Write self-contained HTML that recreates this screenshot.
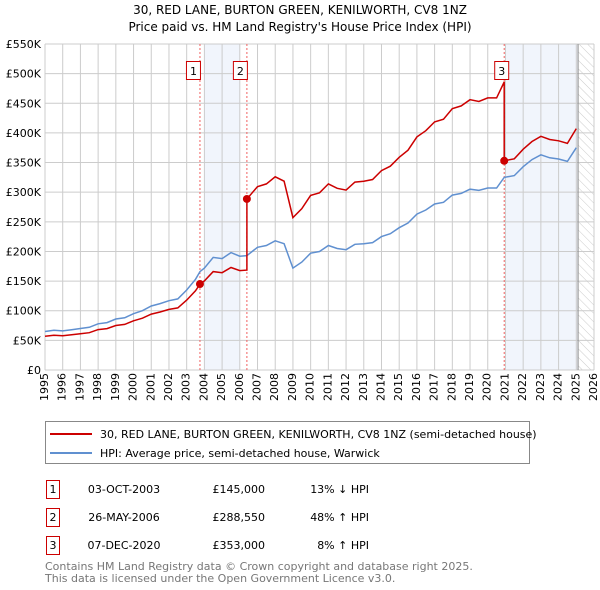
<!DOCTYPE html>
<html><head><meta charset="utf-8"><style>
body{margin:0;background:#fff;font-family:"DejaVu Sans","Liberation Sans",sans-serif;position:relative;width:600px;height:590px;overflow:hidden}
svg{display:block;position:absolute;left:0;top:0}
.xl{position:absolute;font-size:11px;line-height:11px;white-space:nowrap;color:#000;writing-mode:vertical-rl;writing-mode:sideways-lr}
</style></head><body>
<svg id="c" width="600" height="590" viewBox="0 0 600 590" font-family="DejaVu Sans, Liberation Sans, sans-serif">
<text x="300" y="14" text-anchor="middle" font-size="12" fill="#000">30, RED LANE, BURTON GREEN, KENILWORTH, CV8 1NZ</text>
<text x="300" y="31" text-anchor="middle" font-size="12" fill="#000">Price paid vs. HM Land Registry's House Price Index (HPI)</text>
<g id="plot"></g>
<g>
<rect x="45.5" y="421.5" width="484" height="42" fill="#fff" stroke="#888"/>
<line x1="50" y1="434" x2="92" y2="434" stroke="#cc0000" stroke-width="2"/>
<text x="100" y="438" font-size="11">30, RED LANE, BURTON GREEN, KENILWORTH, CV8 1NZ (semi-detached house)</text>
<line x1="50" y1="453" x2="92" y2="453" stroke="#6090d0" stroke-width="2"/>
<text x="100" y="457" font-size="11">HPI: Average price, semi-detached house, Warwick</text>
</g>
<g font-size="11">
<rect x="46.5" y="480.5" width="13" height="18" fill="#fff" stroke="#cc0000"/><text x="53" y="493" text-anchor="middle">1</text>
<text x="124" y="493" text-anchor="middle">03-OCT-2003</text><text x="265" y="493" text-anchor="end">£145,000</text><text x="369" y="493" text-anchor="end">13% ↓ HPI</text>
<rect x="46.5" y="508.5" width="13" height="18" fill="#fff" stroke="#cc0000"/><text x="53" y="521" text-anchor="middle">2</text>
<text x="124" y="521" text-anchor="middle">26-MAY-2006</text><text x="265" y="521" text-anchor="end">£288,550</text><text x="369" y="521" text-anchor="end">48% ↑ HPI</text>
<rect x="46.5" y="536.5" width="13" height="18" fill="#fff" stroke="#cc0000"/><text x="53" y="549" text-anchor="middle">3</text>
<text x="124" y="549" text-anchor="middle">07-DEC-2020</text><text x="265" y="549" text-anchor="end">£353,000</text><text x="369" y="549" text-anchor="end">8% ↑ HPI</text>
</g>
<text x="45" y="570" font-size="11" fill="#777">Contains HM Land Registry data © Crown copyright and database right 2025.</text>
<text x="45" y="582" font-size="11" fill="#777">This data is licensed under the Open Government Licence v3.0.</text>
</svg>
<script>
const hpiYears=[1995,1995.5,1996,1996.5,1997,1997.5,1998,1998.5,1999,1999.5,2000,2000.5,2001,2001.5,2002,2002.5,2003,2003.5,2003.75,2004,2004.5,2005,2005.5,2006,2006.4,2007,2007.5,2008,2008.5,2009,2009.5,2010,2010.5,2011,2011.5,2012,2012.5,2013,2013.5,2014,2014.5,2015,2015.5,2016,2016.5,2017,2017.5,2018,2018.5,2019,2019.5,2020,2020.5,2020.93,2021.5,2022,2022.5,2023,2023.5,2024,2024.5,2025];
const hpiValues=[65,67,66,68,70,72,78,80,86,88,95,100,108,112,117,120,135,153,166,172,190,188,198,192,193,207,210,218,213,172,182,197,200,210,205,203,212,213,215,225,230,240,248,263,270,280,283,295,298,305,303,307,307,325,328,343,355,363,358,356,352,375];
const saleYears=[2003.75,2006.4,2020.93];
const salePrices=[145,288.55,353];
const saleLabels=["1","2","3"];
const yTicks=[0,50,100,150,200,250,300,350,400,450,500,550];
const xTicks=[1995,1996,1997,1998,1999,2000,2001,2002,2003,2004,2005,2006,2007,2008,2009,2010,2011,2012,2013,2014,2015,2016,2017,2018,2019,2020,2021,2022,2023,2024,2025,2026];
const X0=45,X1=594,Y0=370,Y1=44;
const xs=y=>X0+(y-1995)/(2026-1995)*(X1-X0);
const ys=v=>Y0-v/550*(Y0-Y1);
const NS="http://www.w3.org/2000/svg";
const g=document.getElementById('plot');
function mk(t,a,p){const e=document.createElementNS(NS,t);for(const k in a)e.setAttribute(k,a[k]);(p||g).appendChild(e);return e;}
function hpiAt(y){for(let i=1;i<hpiYears.length;i++){if(y<=hpiYears[i]){const t=(y-hpiYears[i-1])/(hpiYears[i]-hpiYears[i-1]);return hpiValues[i-1]+t*(hpiValues[i]-hpiValues[i-1]);}}return hpiValues[hpiValues.length-1];}
let s=mk('rect',{x:xs(2004),y:Y1,width:xs(2006)-xs(2004),height:Y0-Y1,fill:'#eef2fb',opacity:0.8});

s=mk('rect',{x:xs(2021),y:Y1,width:xs(2025.1)-xs(2021),height:Y0-Y1,fill:'#eef2fb',opacity:0.8});

const defs=mk('defs',{});
const pat=mk('pattern',{id:'h',width:6,height:6,patternUnits:'userSpaceOnUse',patternTransform:'rotate(-45)'},defs);
mk('line',{x1:0,y1:0,x2:0,y2:6,stroke:'#ccc','stroke-width':1},pat);
s=mk('rect',{x:xs(2025.1),y:Y1,width:X1-xs(2025.1),height:Y0-Y1,fill:'url(#h)'});

yTicks.forEach(v=>{const l=mk('line',{x1:X0,x2:X1,y1:ys(v),y2:ys(v),stroke:'#ccc'});

const t=mk('text',{x:X0-4,y:ys(v)+4,'text-anchor':'end','font-size':11});t.textContent='£'+(v?v+'K':'0');
});
xTicks.forEach(v=>{const l=mk('line',{x1:xs(v),x2:xs(v),y1:Y1,y2:Y0,stroke:'#ccc'});

const dv=document.createElement('div');
dv.className='xl';
dv.textContent=v;
dv.style.left=(xs(v)-6)+'px';
dv.style.top=(Y0+3)+'px';


document.body.appendChild(dv);});
const vl=mk('line',{x1:xs(2025.1),x2:xs(2025.1),y1:Y1,y2:Y0,stroke:'#888'});

saleYears.forEach((y,i)=>{const l=mk('line',{x1:xs(y),x2:xs(y),y1:Y1,y2:Y0,stroke:'#f06060','stroke-dasharray':'2,2'});

const bx=xs(y)-(i==2?2:6)-7;const r=mk('rect',{x:bx-0.5,y:61.5,width:14,height:18,fill:'#fff',stroke:'#cc0000'});

const t=mk('text',{x:bx+6.5,y:75,'text-anchor':'middle','font-size':11});t.textContent=saleLabels[i];
});
let d=hpiYears.map((y,i)=>(i?'L':'M')+xs(y).toFixed(1)+' '+ys(hpiValues[i]).toFixed(1)).join(' ');
let p=mk('path',{d:d,fill:'none',stroke:'#6090d0','stroke-width':1.5});

function ratioAt(y){let k=0;for(let i=0;i<saleYears.length;i++)if(y>=saleYears[i])k=i;return salePrices[k]/hpiAt(saleYears[k]);}
let pts=[];
hpiYears.forEach((y,i)=>{
  for(let j=0;j<saleYears.length;j++){const sy=saleYears[j];if(i>0&&hpiYears[i-1]<sy&&y>sy){const h=hpiAt(sy);pts.push([sy,h*ratioAt(sy-0.001)]);pts.push([sy,salePrices[j]]);}}
  if(saleYears.includes(y)){const j=saleYears.indexOf(y);pts.push([y,hpiValues[i]*ratioAt(y-0.001)]);pts.push([y,salePrices[j]]);}
  else pts.push([y,hpiValues[i]*ratioAt(y)]);
});
d=pts.map((q,i)=>(i?'L':'M')+xs(q[0]).toFixed(1)+' '+ys(q[1]).toFixed(1)).join(' ');
p=mk('path',{d:d,fill:'none',stroke:'#cc0000','stroke-width':1.5});

saleYears.forEach((y,i)=>{const c=mk('circle',{cx:xs(y),cy:ys(salePrices[i]),r:4,fill:'#cc0000'});
});
</script>
</body></html>
